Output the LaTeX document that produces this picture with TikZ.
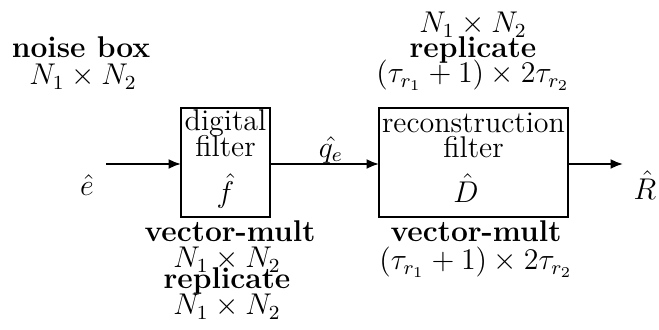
\documentclass[tikz,border=0pt]{standalone}
\usetikzlibrary{arrows.meta}
\begin{document}
\begin{tikzpicture}[x=0.4pt,y=-0.4pt,
  every node/.style={inner sep=0pt,outer sep=0pt,font=\fontsize{12}{13}\selectfont},
  lbl/.style={anchor=base},
  blk/.style={draw,line width=0.8pt},
  conn/.style={line width=0.8pt,-{Latex[length=5pt,width=4pt]}}]
\useasboundingbox (0,0) rectangle (659,330);
% blocks
\node[blk,minimum width=89*0.4pt,minimum height=109*0.4pt] (df) at (225.5,162.5) {};
\node[blk,minimum width=189*0.4pt,minimum height=109*0.4pt] (rf) at (473.5,162.5) {};
% block texts
\node[lbl] (df1) at (225.5,131) {digital};
\node[lbl] (df2) at (225.5,157) {filter};
\node (df3) at (225.5,191) {$\hat{f}$};
\node[lbl] (rf1) at (473.5,133) {reconstruction};
\node[lbl] (rf2) at (473.5,158) {filter};
\node (rf3) at (466,188) {$\hat{D}$};
% signals
\coordinate (in) at (106,164);
\coordinate (out) at (623,164);
\node (e) at (87,185) {$\hat{e}$};
\node (q) at (331,150) {$\hat{q_e}$};
\node (R) at (645,185) {$\hat{R}$};
\draw[conn] (in) -- (df.west |- in);
\draw[conn] (df.east |- in) -- (rf.west |- in);
\draw[conn] (rf.east |- in) -- (out);
% annotations
\node[lbl] (nb1) at (81,58) {\bfseries noise box};
\node[lbl] (nb2) at (83,85) {$N_1\times N_2$};
\node[lbl] (tr1) at (473,33) {$N_1\times N_2$};
\node[lbl] (tr2) at (473,58) {\bfseries replicate};
\node[lbl] (tr3) at (473,83) {$(\tau_{r_1}+1)\times 2\tau_{r_2}$};
\node[lbl] (bl1) at (230,242) {\bfseries vector-mult};
\node[lbl] (bl2) at (227,268) {$N_1\times N_2$};
\node[lbl] (bl3) at (227,289) {\bfseries replicate};
\node[lbl] (bl4) at (227,315) {$N_1\times N_2$};
\node[lbl] (br1) at (476,242) {\bfseries vector-mult};
\node[lbl] (br2) at (476,270) {$(\tau_{r_1}+1)\times 2\tau_{r_2}$};
\end{tikzpicture}
\end{document}
